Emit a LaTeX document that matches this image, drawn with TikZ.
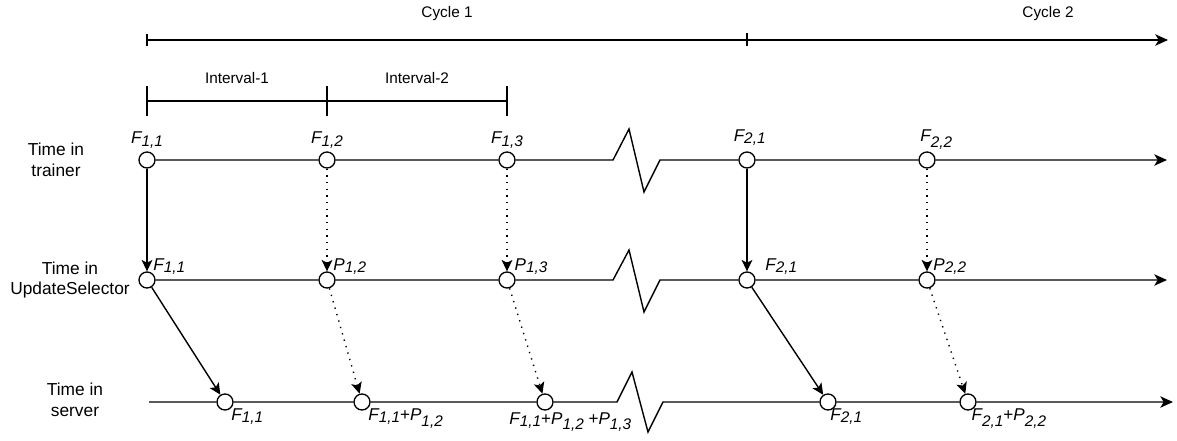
\documentclass[tikz,border=0pt]{standalone}
\usepackage{fontspec}
\setmainfont{Liberation Sans}
\usetikzlibrary{arrows.meta,positioning}
\newcommand{\ev}[2]{\textit{#1\raisebox{-.3ex}{\fontsize{11.5}{11}\selectfont #2}}}
\newcommand{\evs}[2]{\textit{#1\raisebox{-.65ex}{\fontsize{11.5}{11}\selectfont #2}}}

\begin{document}
\begin{tikzpicture}[x=0.75pt, y=-0.75pt,
    evt/.style={draw, circle, fill=white, minimum size=12pt, inner sep=0pt, line width=1pt},
    lane/.style={line width=1.05pt},
    axis/.style={lane, -{Stealth[length=9.5pt, width=8.5pt, inset=2.5pt]}},
    push/.style={lane, -{Stealth[length=8.5pt, width=8pt, inset=2pt]}},
    lazypush/.style={push, dash pattern=on 1pt off 4pt},
    lbl/.style={font=\fontsize{12.8}{14}\selectfont, inner sep=1pt},
    tag/.style={font=\fontsize{11.5}{14}\selectfont, inner sep=1pt},
    rowlabel/.style={align=center, font=\fontsize{13}{15.5}\selectfont}
  ]
    \useasboundingbox (0,0) rectangle (1177,440);
    \node[rowlabel] (trainer) at (56,160) {Time in\\trainer};
    \node[rowlabel] (selector) at (70,280) {Time in\\UpdateSelector};
    \node[rowlabel] (server) at (75,400) {Time in\\server};
    \coordinate (c0) at (147,40);
    \coordinate (c1) at (747,40);
    \coordinate (cend) at (1168,40);
    \draw[axis] (c0) -- (cend);
    \draw[lane] (c0) ++(0,-6) -- ++(0,12);
    \draw[line width=1.6pt] (c1) ++(0,-7) -- ++(0,13);
    \node[tag] (cycle1) at (447,14) {Cycle 1};
    \node[tag] (cycle2) at (1048,14) {Cycle 2};
    \coordinate (i0) at (147,101);
    \coordinate (i1) at (327,101);
    \coordinate (i2) at (507,101);
    \draw[lane] (i0) -- (i2);
    \draw[lane] (i0) ++(0,-15) -- ++(0,30);
    \draw[lane] (i1) ++(0,-15) -- ++(0,30);
    \draw[lane] (i2) ++(0,-15) -- ++(0,30);
    \node[tag] (int1) at (237,78) {Interval-1};
    \node[tag] (int2) at (417,78) {Interval-2};
    \node[evt] (t1) at (147,160) {};
    \node[evt] (t2) at (327,160) {};
    \node[evt] (t3) at (507,160) {};
    \node[evt] (t4) at (747,160) {};
    \node[evt] (t5) at (927,160) {};
    \node[evt] (u1) at (147,280) {};
    \node[evt] (u2) at (327,280) {};
    \node[evt] (u3) at (507,280) {};
    \node[evt] (u4) at (747,280) {};
    \node[evt] (u5) at (927,280) {};
    \node[evt] (s1) at (225,402) {};
    \node[evt] (s2) at (362,402) {};
    \node[evt] (s3) at (545,402) {};
    \node[evt] (s4) at (828,402) {};
    \node[evt] (s5) at (968,402) {};
    \coordinate (tbrk) at (613,160);
    \coordinate (ubrk) at (613,280);
    \coordinate (sbrk) at (617,402);
    \coordinate (tend) at (1167,160);
    \coordinate (uend) at (1167,280);
    \coordinate (s0) at (149,402);
    \coordinate (send) at (1173,402);
    \draw[axis] (t1) -- (t2) -- (t3) -- (tbrk) -- ++(16,-31) -- ++(15,63) -- ++(16,-32) -- (t4) -- (t5) -- (tend);
    \draw[axis] (u1) -- (u2) -- (u3) -- (ubrk) -- ++(16,-30) -- ++(15,62) -- ++(16,-32) -- (u4) -- (u5) -- (uend);
    \draw[axis] (s0) -- (s1) -- (s2) -- (s3) -- (sbrk) -- ++(15,-30) -- ++(16,60) -- ++(15,-30) -- (s4) -- (s5) -- (send);
    \draw[push] (t1) -- (u1);
    \draw[lazypush] (t2) -- (u2);
    \draw[lazypush] (t3) -- (u3);
    \draw[push] (t4) -- (u4);
    \draw[lazypush] (t5) -- (u5);
    \draw[push] (u1) -- (s1);
    \draw[lazypush] (u2) -- (s2);
    \draw[lazypush] (u3) -- (s3);
    \draw[push] (u4) -- (s4);
    \draw[lazypush] (u5) -- (s5);
    \node[lbl, above=1pt of t1] (tl1) {\ev{F}{1,1}};
    \node[lbl, above=1pt of t2] (tl2) {\ev{F}{1,2}};
    \node[lbl, above=1pt of t3] (tl3) {\ev{F}{1,3}};
    \node[lbl, above=3pt of t4, xshift=2pt] (tl4) {\ev{F}{2,1}};
    \node[lbl, above=0pt of t5, xshift=7pt] (tl5) {\evs{F}{2,2}};
    \node[lbl, above right=-2pt and -1pt of u1] (ul1) {\ev{F}{1,1}};
    \node[lbl, above right=-2pt and -1pt of u2] (ul2) {\ev{P}{1,2}};
    \node[lbl, above right=-2pt and 0pt of u3] (ul3) {\ev{P}{1,3}};
    \node[lbl, above right=-2pt and 8pt of u4] (ul4) {\ev{F}{2,1}};
    \node[lbl, above right=-2pt and -1pt of u5] (ul5) {\ev{P}{2,2}};
    \node[lbl, below right=-1pt and -1pt of s1] (sl1) {\ev{F}{1,1}};
    \node[lbl, below right=-1pt and -1pt of s2] (sl2) {\ev{F}{1,1}+\evs{P}{1,2}};
    \node[lbl, below=0pt of s3, xshift=19pt] (sl3) {\ev{F}{1,1}+\evs{P}{1,2} +\evs{P}{1,3}};
    \node[lbl, below right=-1pt and -4pt of s4] (sl4) {\ev{F}{2,1}};
    \node[lbl, below right=-1pt and -3pt of s5] (sl5) {\evs{F}{2,1}+\evs{P}{2,2}};
\end{tikzpicture}
\end{document}
